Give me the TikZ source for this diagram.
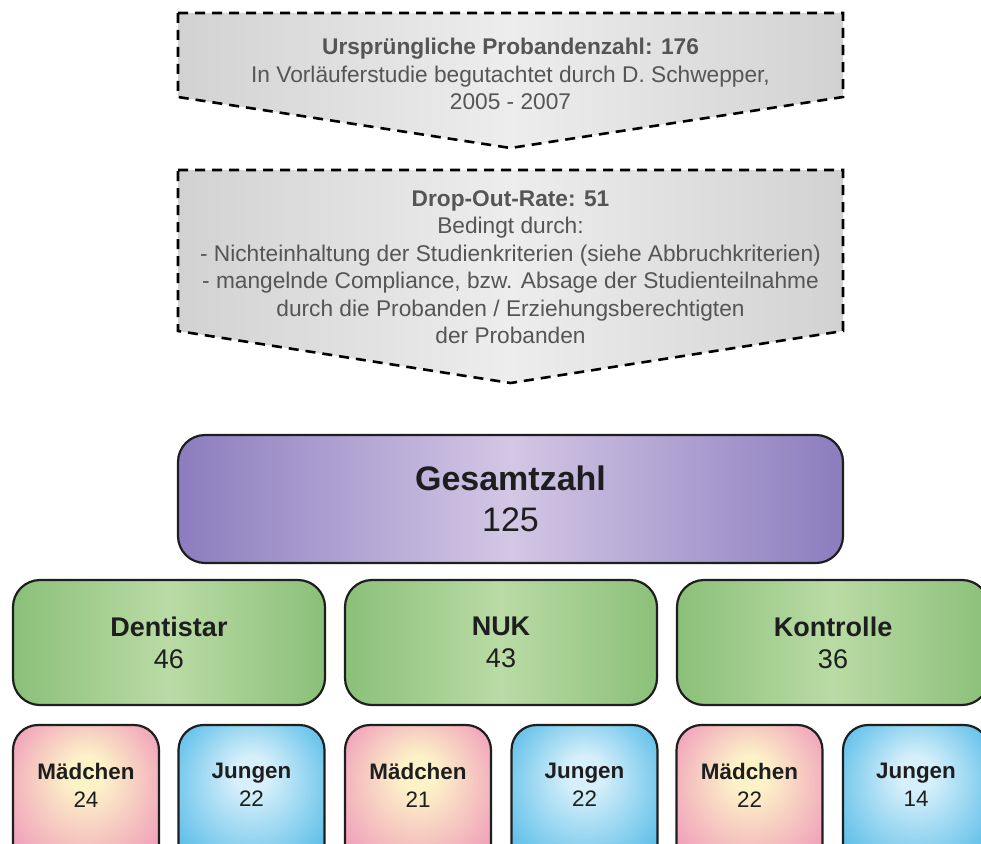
\documentclass[tikz,border=0pt]{standalone}
\usepackage{fontspec}
\setmainfont{Liberation Sans}
\usepackage{tikz}
\usetikzlibrary{positioning}
\newcommand{\chevFont}{\fontsize{22.7}{27.5}\selectfont}
\newcommand{\gesamtFont}{\fontsize{34}{41}\selectfont}
\newcommand{\gruppeFont}{\fontsize{27}{32}\selectfont}
\newcommand{\kindFont}{\fontsize{22.4}{28}\selectfont}
\definecolor{chevText}{HTML}{555555}
\definecolor{chevSide}{HTML}{D2D2D2}
\definecolor{chevMid}{HTML}{EDEDED}
\definecolor{lilaSide}{HTML}{8B7DBE}
\definecolor{lilaMid}{HTML}{D3C7E5}
\definecolor{gruenSide}{HTML}{8BC079}
\definecolor{gruenMid}{HTML}{BADBA5}
\definecolor{rosaOut}{HTML}{EE8FB8}
\definecolor{rosaIn}{HTML}{FCF2C8}
\definecolor{blauOut}{HTML}{45B5E6}
\definecolor{blauIn}{HTML}{D6EFFA}
\definecolor{rahmen}{HTML}{1E1E1E}
\pgfdeclareradialshading{rosaGlow}{\pgfpoint{0bp}{10bp}}{color(0bp)=(rosaIn); color(6bp)=(rosaIn); color(30bp)=(rosaOut!80!rosaIn); color(42bp)=(rosaOut); color(50bp)=(rosaOut)}
\pgfdeclareradialshading{blauGlow}{\pgfpoint{0bp}{10bp}}{color(0bp)=(blauIn); color(6bp)=(blauIn); color(30bp)=(blauOut!80!blauIn); color(42bp)=(blauOut); color(50bp)=(blauOut)}

\begin{document}
\begin{tikzpicture}[x=1pt, y=-1pt,
	chevron/.style={draw=black, line width=2.6pt, dash pattern=on 10pt off 7pt, left color=chevSide, right color=chevSide, middle color=chevMid},
	chevtext/.style={align=center, inner sep=0pt, text=chevText, font=\chevFont},
	kasten/.style={draw=rahmen, line width=2.2pt, rounded corners=27pt, align=center, text=rahmen},
	gesamt/.style={kasten, minimum width=665pt, minimum height=128pt, left color=lilaSide, right color=lilaSide, middle color=lilaMid, font=\gesamtFont},
	gruppe/.style={kasten, minimum width=312pt, minimum height=125pt, left color=gruenSide, right color=gruenSide, middle color=gruenMid, font=\gruppeFont},
	maedchen/.style={kasten, rounded corners=25pt, minimum width=146pt, minimum height=150pt, shading=rosaGlow},
	jungen/.style={kasten, rounded corners=25pt, minimum width=146pt, minimum height=150pt, shading=blauGlow},
	kindtext/.style={align=center, inner sep=0pt, text=rahmen, font=\kindFont}]
	\useasboundingbox (0,0) rectangle (981,843);
	\clip (0,0) rectangle (981,843);
	% Vorstudie
	\draw[chevron] (178,13) -- (843,13) -- (843,97) -- (510.5,148) -- (178,97) -- cycle;
	\node[chevtext] (vorstudie) at (510.5,74.3) {\textbf{Ursprüngliche Probandenzahl: 176}\\In Vorläuferstudie begutachtet durch D. Schwepper,\\2005 - 2007};
	% Drop-Out
	\draw[chevron] (178,170) -- (843,170) -- (843,331) -- (510.5,383) -- (178,331) -- cycle;
	\node[chevtext] (dropout) at (510.5,267) {\textbf{Drop-Out-Rate: 51}\\Bedingt durch:\\- Nichteinhaltung der Studienkriterien (siehe Abbruchkriterien)\\- mangelnde Compliance, bzw. Absage der Studienteilnahme\\durch die Probanden / Erziehungsberechtigten\\der Probanden};
	% Gesamtzahl
	\node[gesamt] (gesamt) at (510.5,499) {\textbf{Gesamtzahl}\\125};
	% Gruppen
	\node[gruppe] (dentistar) at (169,642.5) {\textbf{Dentistar}\\46};
	\node[gruppe] (nuk) at (501,642.5) {\textbf{NUK}\\43};
	\node[gruppe] (kontrolle) at (833,642.5) {\textbf{Kontrolle}\\36};
	% Maedchen / Jungen
	\node[maedchen] (m1) at (86,800) {};
	\node[jungen] (j1) at (251.5,800) {};
	\node[maedchen] (m2) at (418,800) {};
	\node[jungen] (j2) at (584.5,800) {};
	\node[maedchen] (m3) at (749.5,800) {};
	\node[jungen] (j3) at (916,800) {};
	\node[kindtext] (m1t) at (86,785) {\textbf{Mädchen}\\24};
	\node[kindtext] (j1t) at (251.5,785) {\textbf{Jungen}\\22};
	\node[kindtext] (m2t) at (418,785) {\textbf{Mädchen}\\21};
	\node[kindtext] (j2t) at (584.5,785) {\textbf{Jungen}\\22};
	\node[kindtext] (m3t) at (749.5,785) {\textbf{Mädchen}\\22};
	\node[kindtext] (j3t) at (916,785) {\textbf{Jungen}\\14};
\end{tikzpicture}
\end{document}
